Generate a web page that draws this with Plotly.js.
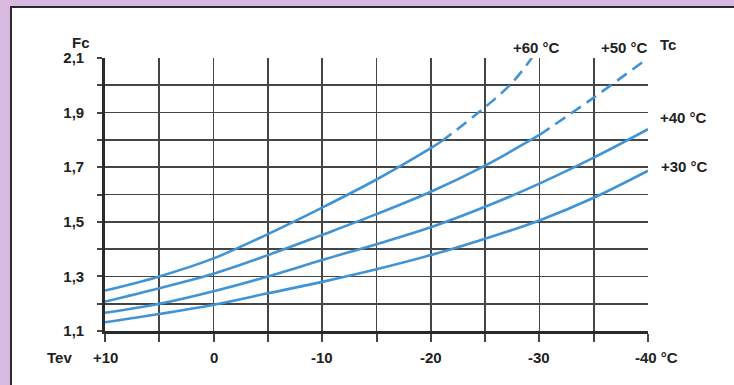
<!DOCTYPE html>
<html>
<head>
<meta charset="utf-8">
<script src="https://cdn.plot.ly/plotly-3.0.1.min.js"></script>
<style>
  html, body { margin: 0; padding: 0; }
  body { width: 734px; height: 385px; background: #d9b9df; position: relative; overflow: hidden; }
  #panel { position: absolute; left: 10px; top: 6px; right: 0; bottom: 0; background: #ffffff;
           border-left: 2px solid #2a2a2a; border-top: 2px solid #2a2a2a; }
  #chart { position: absolute; left: 0; top: 0; width: 734px; height: 385px; }
</style>
</head>
<body>
<div id="panel"></div>
<div id="chart"></div>
<script>
// Evaporating temperature Tev (°C), grid every 5 degrees
const tev = [10, 5, 0, -5, -10, -15, -20, -25, -30, -35, -40];

// Correction factor Fc for each condensing temperature Tc
const tc30 = [1.132, 1.162, 1.196, 1.238, 1.280, 1.326, 1.378, 1.438, 1.505, 1.588, 1.687];
const tc40 = [1.167, 1.200, 1.246, 1.300, 1.360, 1.418, 1.480, 1.555, 1.640, 1.735, 1.839];

// Tc = +50 °C: solid up to -30, dashed (extrapolated) beyond
const tev50Solid = [10, 5, 0, -5, -10, -15, -20, -25, -30];
const tc50Solid  = [1.208, 1.257, 1.310, 1.378, 1.452, 1.528, 1.610, 1.706, 1.818];
const tev50Dash  = [-30, -35, -40];
const tc50Dash   = [1.818, 1.955, 2.100];

// Tc = +60 °C: solid up to -21, dashed beyond
const tev60Solid = [10, 5, 0, -5, -10, -15, -20, -21];
const tc60Solid  = [1.248, 1.300, 1.366, 1.455, 1.552, 1.655, 1.770, 1.795];
const tev60Dash  = [-21, -25, -27.5, -29.3];
const tc60Dash   = [1.795, 1.920, 2.010, 2.100];

// Axis labelling
const xTickVals = [10, 5, 0, -5, -10, -15, -20, -25, -30, -35, -40];
const xLabelVals = [10, 0, -10, -20, -30, -40];
const xLabelText = ['+10', '0', '-10', '-20', '-30', '-40 °C'];
const yTickVals = [1.1, 1.2, 1.3, 1.4, 1.5, 1.6, 1.7, 1.8, 1.9, 2.0, 2.1];
const yTickText = ['1,1', '', '1,3', '', '1,5', '', '1,7', '', '1,9', '', '2,1'];

const curveLabels = ['+60 °C', '+50 °C', '+40 °C', '+30 °C'];

const blue = '#4094d6';
const ink = '#222222';
const gridInk = '#454545';
const font = { family: 'Liberation Sans, Arial, sans-serif', size: 15, color: ink, weight: 'bold' };

function curve(x, y, dashed) {
  return {
    x: x, y: y, type: 'scatter', mode: 'lines',
    line: { color: blue, width: 2.6, shape: 'spline', smoothing: 1, dash: dashed ? '12px,7px' : 'solid' },
    hoverinfo: 'skip', showlegend: false
  };
}

const traces = [
  curve(tev, tc30, false),
  curve(tev, tc40, false),
  curve(tev50Solid, tc50Solid, false),
  curve(tev50Dash, tc50Dash, true),
  curve(tev60Solid, tc60Solid, false),
  curve(tev60Dash, tc60Dash, true)
];

const annotations = [];
function note(text, x, y, xref, xanchor, xshift) {
  annotations.push({ text: '<b>' + text + '</b>', x: x, y: y, xref: xref, yref: 'paper',
    xanchor: xanchor || 'center', yanchor: 'middle', showarrow: false,
    xshift: xshift || 0, font: font });
}

xLabelVals.forEach((v, i) => note(xLabelText[i], v, -0.097, 'x', 'center', v === -40 ? 8 : 0));
note('Fc', -0.045, 1.058, 'paper');
note('Tev', -0.084, -0.097, 'paper');
note('Tc', 1.037, 1.049, 'paper');
note(curveLabels[0], 0.794, 1.040, 'paper');
note(curveLabels[1], 0.956, 1.040, 'paper');
note(curveLabels[2], 1.066, 0.783, 'paper');
note(curveLabels[3], 1.068, 0.603, 'paper');

const layout = {
  width: 734, height: 385,
  margin: { l: 104.5, r: 86, t: 58, b: 54.3, pad: 0 },
  paper_bgcolor: 'rgba(0,0,0,0)',
  plot_bgcolor: '#ffffff',
  showlegend: false,
  xaxis: {
    range: [10, -40], autorange: false,
    tickmode: 'array', tickvals: xTickVals, ticktext: xTickVals.map(() => ''),
    ticks: 'outside', ticklen: 8, tickwidth: 2, tickcolor: gridInk,
    showgrid: true, gridcolor: gridInk, gridwidth: 1.7,
    showline: true, linecolor: '#2a2a2a', linewidth: 2.6, mirror: false,
    zeroline: false, fixedrange: true
  },
  yaxis: {
    range: [1.1, 2.1], autorange: false,
    tickmode: 'array', tickvals: yTickVals, ticktext: yTickText,
    ticks: 'outside', ticklen: 5, tickwidth: 2, tickcolor: gridInk,
    ticklabelstandoff: 10,
    tickfont: font,
    showgrid: true, gridcolor: gridInk, gridwidth: 1.7,
    showline: true, linecolor: '#2a2a2a', linewidth: 2.8, mirror: false,
    zeroline: false, fixedrange: true
  },
  annotations: annotations
};

Plotly.newPlot('chart', traces, layout, { staticPlot: true, displayModeBar: false });
</script>
</body>
</html>
